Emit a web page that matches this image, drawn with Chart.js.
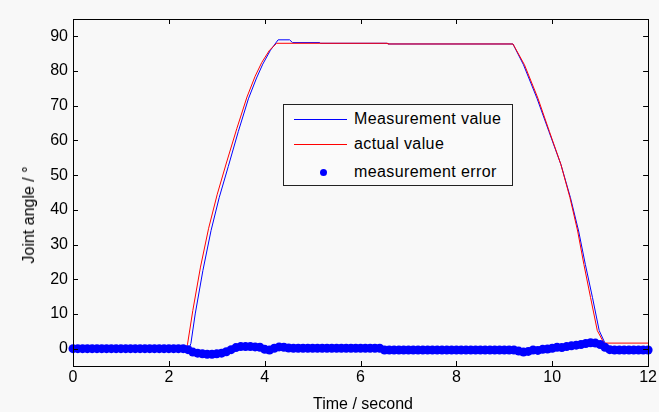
<!DOCTYPE html>
<html>
<head>
<meta charset="utf-8">
<script src="https://cdn.jsdelivr.net/npm/chart.js@4.4.0/dist/chart.umd.min.js"></script>
<style>
  html, body { margin: 0; padding: 0; background: #f8f8f8; }
  #wrap { position: relative; width: 659px; height: 412px; font-family: "Liberation Sans", Arial, sans-serif; color: #000; }
  #wrap canvas { position: absolute; left: 0; top: 0; }
  .ytitle { position: absolute; left: 29px; top: 215px; transform: translate(-50%, -50%) rotate(-90deg); font-size: 16px; white-space: nowrap; }
  .xtitle { position: absolute; left: 363px; top: 404px; transform: translate(-50%, -50%); font-size: 16px; white-space: nowrap; }
  .legend { position: absolute; left: 283px; top: 104px; width: 228px; height: 80px; border: 1px solid #222; background: #fafafa; font-size: 16px; }
  .legend .row { position: absolute; left: 0; height: 20px; width: 100%; }
  .legend .line { position: absolute; left: 10px; width: 53px; top: 10px; border-top: 1px solid; }
  .legend .dot { position: absolute; left: 36px; top: 7px; width: 7px; height: 7px; border-radius: 50%; background: #0000ff; }
  .legend .txt { position: absolute; left: 70px; top: 0; line-height: 20px; letter-spacing: 0.4px; }
</style>
</head>
<body>
<div id="wrap">
  <canvas id="chart" width="659" height="412"></canvas>
  <div class="ytitle">Joint angle / °</div>
  <div class="xtitle">Time / second</div>
  <div class="legend">
    <div class="row" style="top:4px"><span class="line" style="border-color:#0000ff"></span><span class="txt">Measurement value</span></div>
    <div class="row" style="top:29px"><span class="line" style="border-color:#ff0000"></span><span class="txt">actual value</span></div>
    <div class="row" style="top:57px"><span class="dot"></span><span class="txt">measurement error</span></div>
  </div>
</div>
<script>
// tick labels
const xTicks = [0, 2, 4, 6, 8, 10, 12];
const yTicks = [0, 10, 20, 30, 40, 50, 60, 70, 80, 90];

// actual joint angle (red)
const actualTime = [0, 2.36, 2.39, 2.50, 2.66, 2.83, 3.01, 3.20, 3.42, 3.63, 3.80, 3.94, 4.10, 4.25, 6.56, 6.57, 9.18, 9.42, 9.70, 9.94, 10.18, 10.37, 10.53, 10.66, 10.80, 10.94, 11.08, 12];
const actualValue = [0, 0, 1.3, 11, 23.5, 34.7, 44.5, 53.5, 63.5, 72.5, 78.5, 82.5, 86, 88, 88, 87.8, 87.8, 81.8, 72.2, 62.6, 53.1, 43.5, 33.9, 24.3, 14.7, 5.2, 1.6, 1.6];

// measured joint angle (blue)
const measTime = [0, 2.42, 2.46, 2.55, 2.71, 2.88, 3.05, 3.24, 3.45, 3.66, 3.83, 3.96, 4.12, 4.20, 4.28, 4.52, 4.58, 5.15, 5.16, 6.56, 6.57, 9.18, 9.40, 9.68, 9.93, 10.18, 10.38, 10.55, 10.69, 10.84, 10.98, 11.12, 11.20, 12];
const measValue = [0, 0, 1.5, 10, 22.5, 34, 43.5, 52.5, 62.6, 72, 78, 82, 86, 87.5, 89, 89, 88.2, 88.2, 88, 88, 87.8, 87.8, 81.8, 72.2, 62.6, 53.1, 43.5, 33.9, 24.3, 14.7, 5.2, 1.0, 0.3, 0.3];

// measurement error, sampled every 0.1 s from 0 to 12 s
const errStep = 0.1;
const errValue = [
  0, 0, 0, 0, 0, 0, 0, 0, 0, 0,
  0, 0, 0, 0, 0, 0, 0, 0, 0, 0,
  0, 0, 0, 0, -0.3, -1.0, -1.3, -1.5, -1.6, -1.6,
  -1.5, -1.3, -0.9, -0.3, 0.3, 0.6, 0.6, 0.6, 0.5, 0.4,
  -0.2, -0.4, 0.1, 0.5, 0.4, 0.2, 0.1, 0.1, 0.1, 0.1,
  0.1, 0.1, 0.1, 0.1, 0.1, 0.1, 0.1, 0.1, 0.1, 0.1,
  0.1, 0.1, 0.1, 0.1, 0.1, -0.4, -0.4, -0.4, -0.4, -0.4,
  -0.4, -0.4, -0.4, -0.4, -0.4, -0.4, -0.4, -0.4, -0.4, -0.4,
  -0.4, -0.4, -0.4, -0.4, -0.4, -0.4, -0.4, -0.4, -0.4, -0.4,
  -0.4, -0.4, -0.4, -0.7, -1.0, -0.8, -0.4, -0.5, -0.2, -0.1,
  0.1, 0.4, 0.3, 0.6, 0.8, 1.0, 1.2, 1.5, 1.7, 1.6,
  1.2, 0.4, -0.3, -0.4, -0.4, -0.4, -0.4, -0.4, -0.4, -0.4,
  -0.4
];

const toPoints = (xs, ys) => xs.map((x, i) => ({ x: x, y: ys[i] }));

// box around the plot with inward ticks on all four sides
const boxPlugin = {
  id: "box",
  afterDraw(chart) {
    const { ctx, chartArea: a, scales } = chart;
    const len = 5;
    ctx.save();
    ctx.strokeStyle = "#000";
    ctx.lineWidth = 1;
    ctx.beginPath();
    scales.x.ticks.forEach((t) => {
      const px = Math.round(scales.x.getPixelForValue(t.value)) + 0.5;
      ctx.moveTo(px, a.bottom);
      ctx.lineTo(px, a.bottom - len);
      ctx.moveTo(px, a.top);
      ctx.lineTo(px, a.top + len);
    });
    scales.y.ticks.forEach((t) => {
      const py = Math.round(scales.y.getPixelForValue(t.value)) + 0.5;
      ctx.moveTo(a.left, py);
      ctx.lineTo(a.left + len, py);
      ctx.moveTo(a.right, py);
      ctx.lineTo(a.right - len, py);
    });
    ctx.stroke();
    ctx.strokeRect(Math.round(a.left) + 0.5, Math.round(a.top) + 0.5, Math.round(a.right - a.left), Math.round(a.bottom - a.top));
    ctx.restore();
  },
};

const tickFont = { family: "'Liberation Sans', Arial, sans-serif", size: 16 };

new Chart(document.getElementById("chart"), {
  type: "scatter",
  data: {
    datasets: [
      {
        label: "Measurement value",
        data: toPoints(measTime, measValue),
        showLine: true,
        borderColor: "#0000ff",
        borderWidth: 1,
        pointRadius: 0,
        order: 3,
      },
      {
        label: "actual value",
        data: toPoints(actualTime, actualValue),
        showLine: true,
        borderColor: "#ff0000",
        borderWidth: 1,
        pointRadius: 0,
        order: 2,
      },
      {
        label: "measurement error",
        data: errValue.map((v, i) => ({ x: i * errStep, y: v })),
        showLine: false,
        pointRadius: 4.5,
        pointBorderWidth: 0,
        backgroundColor: "#0000ff",
        borderColor: "#0000ff",
        clip: false,
        order: 1,
      },
    ],
  },
  options: {
    responsive: false,
    animation: false,
    layout: { padding: { left: 0, top: 19, right: 6, bottom: 0 } },
    plugins: { legend: { display: false }, tooltip: { enabled: false } },
    scales: {
      x: {
        type: "linear",
        min: 0,
        max: 12,
        afterBuildTicks: (s) => { s.ticks = xTicks.map((v) => ({ value: v })); },
        afterFit: (s) => { s.height = 46; },
        grid: { display: false, drawTicks: false },
        border: { display: false },
        ticks: { color: "#000", font: tickFont, padding: 2, maxRotation: 0 },
      },
      y: {
        type: "linear",
        min: -5,
        max: 95,
        afterBuildTicks: (s) => { s.ticks = yTicks.map((v) => ({ value: v })); },
        afterFit: (s) => { s.width = 73; },
        grid: { display: false, drawTicks: false },
        border: { display: false },
        ticks: { color: "#000", font: tickFont, padding: 5 },
      },
    },
  },
  plugins: [boxPlugin],
});
</script>
</body>
</html>
